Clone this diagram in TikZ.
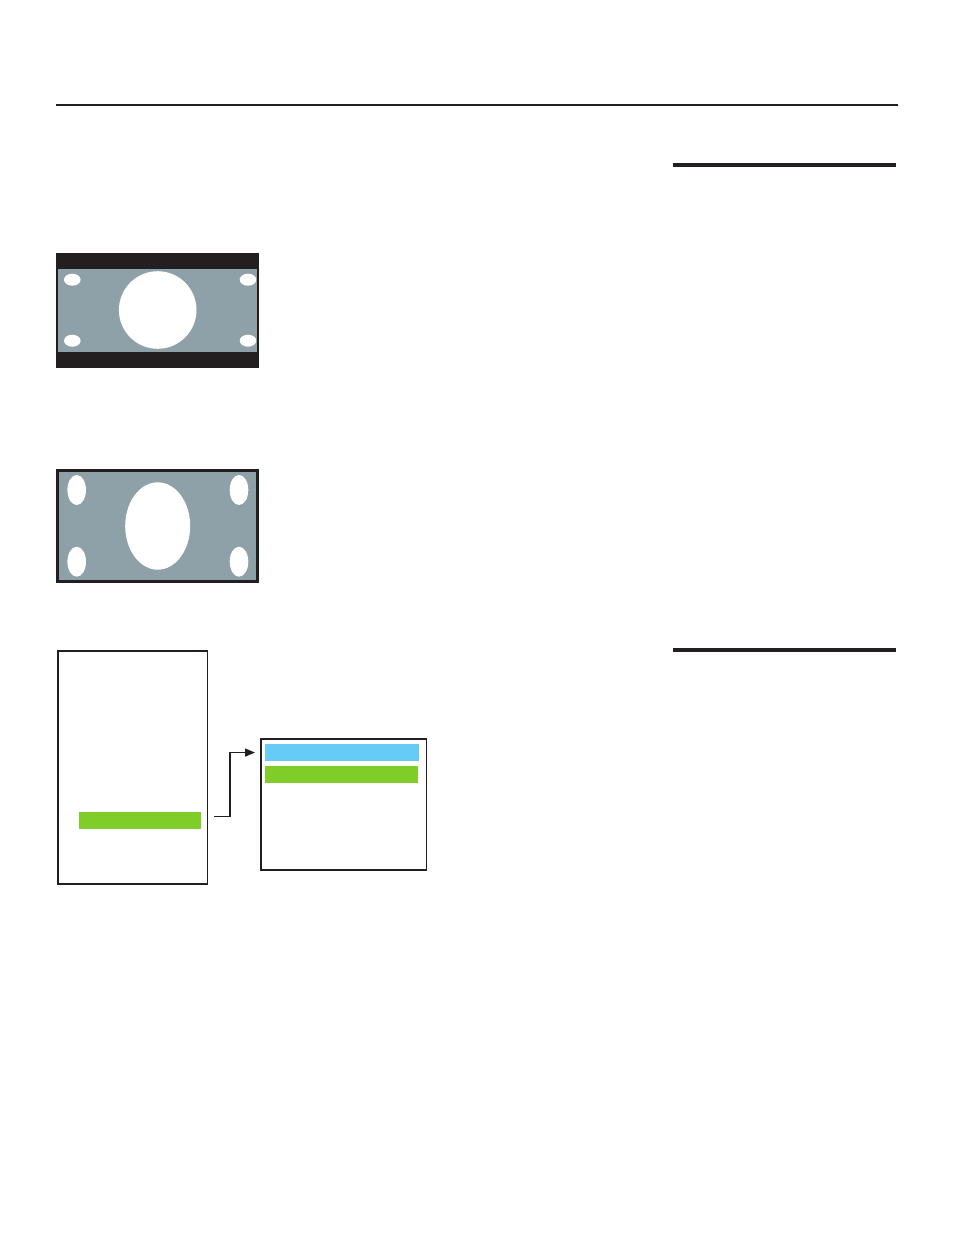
\documentclass[tikz,border=0pt]{standalone}
\usetikzlibrary{arrows.meta}
\definecolor{screengray}{RGB}{142,160,168}
\definecolor{inkblack}{RGB}{35,31,32}
\definecolor{menugreen}{RGB}{128,204,40}
\definecolor{menublue}{RGB}{102,204,245}

\begin{document}
\begin{tikzpicture}[x=1pt, y=-1pt,
    menubox/.style={draw=inkblack, line width=1.5pt, fill=white, inner sep=0pt, anchor=north west},
    menubar/.style={inner sep=0pt, anchor=north west, minimum height=16.7pt}]
        \useasboundingbox (0,0) rectangle (954,1235);

        % page rules
        \draw[inkblack, line width=1.2pt] (56,105) -- (898,105);
        \draw[inkblack, line width=4pt] (673,165) -- (896,165);
        \draw[inkblack, line width=4pt] (673,650) -- (896,650);

        % letterbox screen
        \fill[inkblack] (56,253) rectangle (259,368);
        \fill[screengray] (57.7,269) rectangle (257.3,352);
        \fill[white] (157.7,310) circle [radius=38.8pt];
        \foreach \x/\y in {72.3/279.7, 248/279.7, 72.3/340.7, 248/340.7}
          \fill[white] (\x,\y) ellipse [x radius=8.3pt, y radius=6pt];

        % stretched screen
        \fill[screengray] (56,469) rectangle (259,583);
        \draw[inkblack, line width=3pt] (57.5,470.5) rectangle (257.5,581.5);
        \fill[white] (157.7,526) ellipse [x radius=32.5pt, y radius=43.7pt];
        \foreach \x/\y in {76.7/490, 239/490, 76.7/561.7, 239/561.7}
          \fill[white] (\x,\y) ellipse [x radius=9.3pt, y radius=15pt];

        % menus
        \node[menubox, minimum width=149.1pt, minimum height=232.8pt] (mainmenu) at (57.45,650.45) {};
        \node[menubox, minimum width=165.5pt, minimum height=131.2pt] (submenu) at (260.45,738.05) {};
        \node[menubar, fill=menugreen, minimum width=122pt] (mainbar) at (79,812) {};
        \node[menubar, fill=menublue, minimum width=154pt] (bluebar) at (265,744) {};
        \node[menubar, fill=menugreen, minimum width=153pt] (greenbar) at (265,766) {};

        \coordinate (src) at (214,816.3);
        \draw[inkblack, line width=1.3pt, -{Triangle[length=10pt,width=8pt]}]
              (src) -- ++(16,0) |- ([xshift=-10pt]bluebar.west);

      \end{tikzpicture}
\end{document}
